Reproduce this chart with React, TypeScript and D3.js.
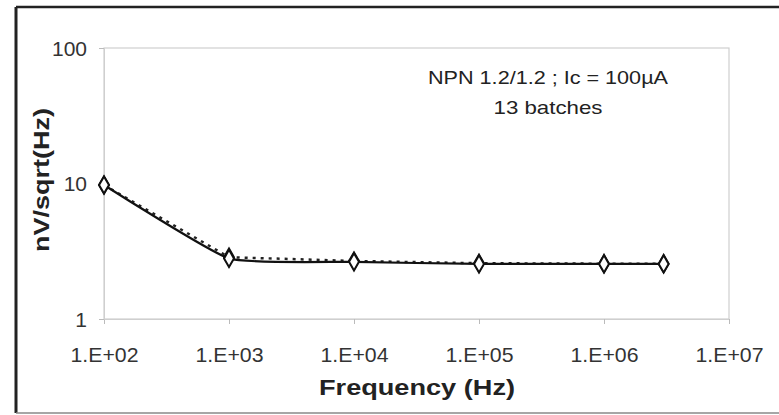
import React, { useEffect, useRef } from 'react';
import * as d3 from 'd3';

// frequency points (Hz) and measured noise (nV/sqrt(Hz))
const freqs = [1e2, 1e3, 1e4, 1e5, 1e6, 3e6];
const noiseSolid = [9.75, 2.8, 2.64, 2.55, 2.55, 2.55];
const noiseDotted = [9.75, 2.86, 2.68, 2.58, 2.56, 2.56];
const xTicks = [1e2, 1e3, 1e4, 1e5, 1e6, 1e7];
const xTickLabels = ['1.E+02', '1.E+03', '1.E+04', '1.E+05', '1.E+06', '1.E+07'];
const yTicks = [1, 10, 100];
const noteLines = ['NPN 1.2/1.2 ; Ic = 100\u00b5A', '13 batches'];

const W = 779;
const H = 415;

export default function App() {
  const ref = useRef<SVGSVGElement>(null);

  useEffect(() => {
    const svg = d3.select(ref.current);
    svg.selectAll('*').remove();

    const left = 104, right = 729, top = 48, bottom = 319;
    const font = '"Liberation Sans", Arial, sans-serif';

    const x = d3.scaleLog().domain([1e2, 1e7]).range([left, right]);
    const y = d3.scaleLog().domain([1, 100]).range([bottom, top]);

    svg.append('rect').attr('width', W).attr('height', H).attr('fill', '#fff');

    // outer frame
    svg.append('line').attr('x1', 16).attr('x2', W).attr('y1', 7).attr('y2', 7)
      .attr('stroke', '#222').attr('stroke-width', 2.5);
    svg.append('line').attr('x1', 16).attr('x2', 16).attr('y1', 7).attr('y2', 413)
      .attr('stroke', '#222').attr('stroke-width', 3);
    svg.append('line').attr('x1', 16).attr('x2', W).attr('y1', 413).attr('y2', 413)
      .attr('stroke', '#888').attr('stroke-width', 1.5);

    // plot area box
    svg.append('rect').attr('x', left).attr('y', top)
      .attr('width', right - left).attr('height', bottom - top)
      .attr('fill', 'none').attr('stroke', '#cfcfcf').attr('stroke-width', 1.2);

    const xAxis = svg.append('g').attr('transform', 'translate(0,' + bottom + ')')
      .call(d3.axisBottom(x).tickValues(xTicks).tickSize(5)
        .tickFormat((d, i) => xTickLabels[i]));
    xAxis.select('.domain').attr('stroke', '#cfcfcf');
    xAxis.selectAll('line').attr('stroke', '#bbb');
    xAxis.selectAll('text').attr('font-family', font).attr('font-size', 21)
      .attr('fill', '#333').attr('y', 43).attr('dy', null)
      .attr('textLength', 68).attr('lengthAdjust', 'spacingAndGlyphs');

    const yAxis = svg.append('g').attr('transform', 'translate(' + left + ',0)')
      .call(d3.axisLeft(y).tickValues(yTicks).tickSize(5).tickFormat(d3.format('d')));
    yAxis.select('.domain').attr('stroke', '#cfcfcf');
    yAxis.selectAll('line').attr('stroke', '#bbb');
    yAxis.selectAll('text').attr('font-family', font).attr('font-size', 21)
      .attr('fill', '#333').attr('x', -17).attr('dy', '0.35em');

    // axis titles
    svg.append('text').attr('x', 417).attr('y', 395)
      .attr('text-anchor', 'middle').attr('font-family', font).attr('font-size', 22)
      .attr('font-weight', 'bold').attr('fill', '#222')
      .attr('textLength', 196).attr('lengthAdjust', 'spacingAndGlyphs')
      .text('Frequency (Hz)');
    svg.append('text').attr('transform', 'translate(49,180) rotate(-90)')
      .attr('text-anchor', 'middle').attr('font-family', font).attr('font-size', 22)
      .attr('font-weight', 'bold').attr('fill', '#222')
      .attr('textLength', 144).attr('lengthAdjust', 'spacingAndGlyphs')
      .text('nV/sqrt(Hz)');

    // note
    const noteLen = [240, 109];
    noteLines.forEach((t, i) => {
      svg.append('text').attr('x', 548).attr('y', 84 + i * 30)
        .attr('text-anchor', 'middle').attr('font-family', font).attr('font-size', 19)
        .attr('fill', '#222')
        .attr('textLength', noteLen[i]).attr('lengthAdjust', 'spacingAndGlyphs')
        .text(t);
    });

    const dotted = d3.line<number>().x((d, i) => x(freqs[i])).y(d => y(d));
    const smooth = d3.line<number>().x((d, i) => x(freqs[i])).y(d => y(d))
      .curve(d3.curveCardinal.tension(0.55));

    svg.append('path').attr('d', dotted(noiseDotted)).attr('fill', 'none')
      .attr('stroke', '#222').attr('stroke-width', 2.5).attr('stroke-dasharray', '3,5');
    svg.append('path').attr('d', smooth(noiseSolid)).attr('fill', 'none')
      .attr('stroke', '#111').attr('stroke-width', 2.2);

    const diamond = d3.symbol().type(d3.symbolDiamond).size(85);
    [noiseDotted, noiseSolid].forEach(series => {
      svg.selectAll(null).data(series).enter().append('path')
        .attr('d', diamond)
        .attr('transform', (d, i) => 'translate(' + x(freqs[i]) + ',' + y(d) + ')')
        .attr('fill', '#fff').attr('stroke', '#111').attr('stroke-width', 2);
    });
  }, []);

  return (
    <svg ref={ref} width={W} height={H}
      style={{ position: 'absolute', left: 0, top: 0, display: 'block' }} />
  );
}
